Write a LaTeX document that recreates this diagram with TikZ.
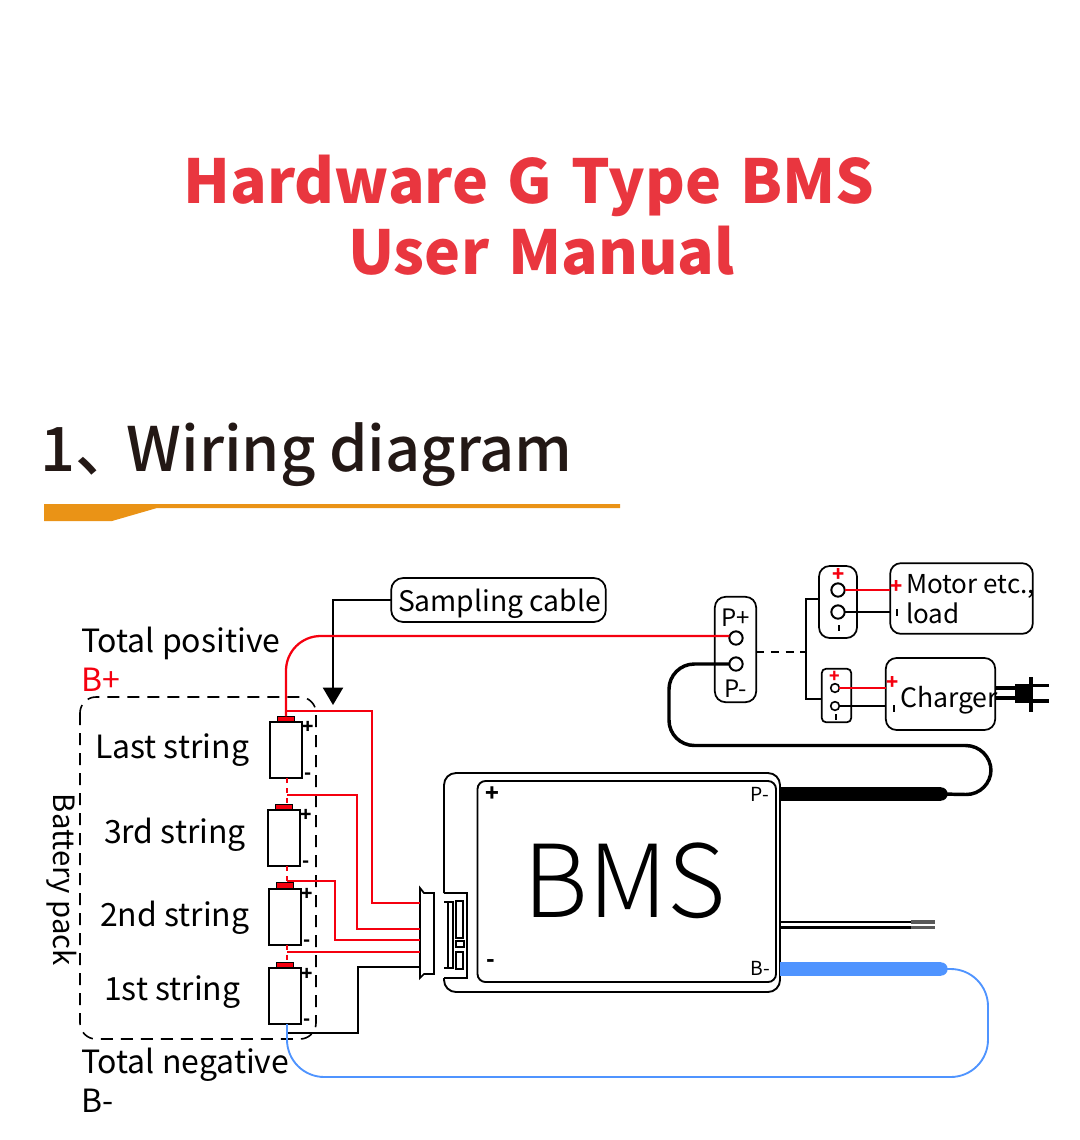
\documentclass[tikz,border=0pt]{standalone}
\usepackage{fontspec}
\usepackage{xcolor}
\setmainfont{Noto Sans CJK SC}
\newfontfamily\headfont{Noto Sans CJK SC Medium}
\newfontfamily\lightfont{Noto Sans CJK SC Light}
\usetikzlibrary{arrows.meta}
\definecolor{TitleRed}{HTML}{E9363F}
\definecolor{HeadInk}{HTML}{231815}
\definecolor{RuleOrange}{HTML}{EA9316}
\definecolor{WireBlue}{HTML}{4F94FF}
\definecolor{WireRed}{HTML}{F5000F}
\tikzset{
  label24/.style={anchor=base west, inner sep=0, outer sep=0, font=\fontsize{24pt}{28pt}\selectfont},
  title40/.style={anchor=base, inner sep=0, outer sep=0, text=TitleRed, font=\fontsize{45.5pt}{50pt}\bfseries\selectfont},
  cell/.style={draw, line width=1.5pt, minimum width=24pt, minimum height=42pt, inner sep=0, outer sep=0},
  cellcap/.style={draw, line width=0.6pt, fill=WireRed, minimum width=13pt, minimum height=4pt, inner sep=0, outer sep=0},
  pm/.style={inner sep=0, outer sep=0, font=\fontsize{14pt}{14pt}\bfseries\selectfont},
  port/.style={circle, draw, line width=1.5pt, minimum size=10pt, inner sep=0, outer sep=0},
  smallport/.style={circle, draw, line width=1.2pt, minimum size=6.5pt, inner sep=0, outer sep=0},
  termbox/.style={draw, line width=1.3pt, rounded corners=8pt, inner sep=0, outer sep=0},
  redwire/.style={WireRed, line width=1.7pt},
  blackwire/.style={black, line width=1.5pt},
}
\begin{document}
\begin{tikzpicture}[x=0.75pt,y=-0.75pt]
\useasboundingbox (0,0) rectangle (1080,1140);
% heading
\node[title40] (titleone) at (529,203) {Hardware\hspace{4pt} G\hspace{4pt} Type\hspace{4pt} BMS};
\node[title40] (titletwo) at (541.5,274) {User\hspace{4pt} Manual};
\node[anchor=base west, inner sep=0, text=HeadInk, font=\fontsize{46pt}{50pt}\headfont] (wiringhead) at (40,471) {1、\hspace{-7.5pt}Wiring diagram};
\fill[RuleOrange] (44,504)--(620,504)--(620,508)--(157,508)--(112,521)--(44,521)--cycle;
% labels
\node[label24] (totalpos) at (81,652) {Total positive};
\node[label24, text=WireRed] (bplus) at (81,691) {B+};
\node[label24] (laststr) at (95,758) {Last string};
\node[label24] (thirdstr) at (104,843) {3rd string};
\node[label24] (secondstr) at (100,926) {2nd string};
\node[label24] (firststr) at (104,1000) {1st string};
\node[label24] (totalneg) at (81,1073) {Total negative};
\node[label24] (bminus) at (81,1112) {B-};
\node[label24, anchor=center, rotate=-90, font=\fontsize{22pt}{26pt}\selectfont] (packlabel) at (62,880) {Battery pack};
\draw[dashed, line width=1.2pt, dash pattern=on 9pt off 6pt, rounded corners=12pt] (80,697) rectangle (316,1039);
% cells
\node[cellcap] (lastcap) at (286,719) {};
\node[cell] (lastcell) at (286,750) {};
\node[cellcap] (thirdcap) at (284,807.5) {};
\node[cell] (thirdcell) at (284,838) {};
\node[cellcap] (secondcap) at (285,885.5) {};
\node[cell] (secondcell) at (285,916.5) {};
\node[cellcap] (firstcap) at (285,965.5) {};
\node[cell] (firstcell) at (285,996) {};
\node[pm] (lastplus) at (308,727) {+};
\node[pm] (lastminus) at (308,776) {-};
\node[pm] (thirdplus) at (306,815) {+};
\node[pm] (thirdminus) at (306,864) {-};
\node[pm] (secondplus) at (307,894) {+};
\node[pm] (secondminus) at (307,943) {-};
\node[pm] (firstplus) at (307,974) {+};
\node[pm] (firstminus) at (307,1022) {-};
% plug on the board
\node[inner sep=0, outer sep=0] (plug) at (427,933) {};
\draw[line width=1.3pt] (420,888)--(424,893)--(434,893)--(434,974)--(424,974)--(420,978)--cycle;
\coordinate (pina) at (420,903);
\coordinate (pinb) at (420,929);
\coordinate (pinc) at (420,940);
\coordinate (pind) at (420,952);
\coordinate (pine) at (420,967);
\coordinate (lasttap) at (286,711);
\coordinate (thirdtap) at (287,795);
\coordinate (secondtap) at (287,881);
\coordinate (firsttap) at (287,952);
\coordinate (grndtap) at (287,1033);
%
\draw[redwire, dash pattern=on 4pt off 3.5pt] (lastcell.south -| thirdtap)--(thirdcap.north -| thirdtap);
\draw[redwire, dash pattern=on 4pt off 3.5pt] (thirdcell.south -| thirdtap)--(secondcap.north -| thirdtap);
\draw[redwire, dash pattern=on 4pt off 3.5pt] (secondcell.south -| thirdtap)--(firstcap.north -| thirdtap);
%
\draw[redwire] (lasttap)--(372,711)--(372,903)--(pina);
\draw[redwire] (thirdtap)--(357,795)--(357,929)--(pinb);
\draw[redwire] (secondtap)--(335,881)--(335,940)--(pinc);
\draw[redwire] (firsttap)--(pind);
\draw[blackwire] (grndtap)--(358,1033)--(358,967)--(pine);
% sampling cable
\node[draw, line width=1.3pt, rounded corners=9pt, minimum width=161pt, minimum height=33pt, inner sep=0, outer sep=0] (sampling) at (498.5,600) {};
\node[anchor=base, inner sep=0, outer sep=0, font=\fontsize{21.2pt}{24pt}\selectfont] (samplingtext) at (499.5,611) {Sampling cable};
\coordinate (sampletip) at (333,705);
\draw[blackwire, -{Triangle[length=13pt,width=15pt]}] (sampling.west)--(333,600)--(sampletip);
% board
\node[anchor=base, inner sep=0, outer sep=0, font=\fontsize{75.5pt}{80pt}\lightfont] (bmstext) at (625,917) {BMS};
\draw[line width=1.4pt, rounded corners=9pt] (444,893)--(444,773)--(780,773)--(780,992)--(444,992)--(444,978);
\draw[line width=1.4pt] (444,893)--(467,893)--(467,978)--(444,978);
\draw[line width=1.4pt] (444,902)--(453,902)--(453,968)--(444,968);
\draw[line width=1.2pt] (448,902)--(448,968);
\draw[line width=1.2pt] (456,901) rectangle (463,938);
\draw[line width=1.2pt] (456,941) rectangle (464,947);
\draw[line width=1.2pt] (456,952) rectangle (463,969);
\draw[line width=1.4pt, rounded corners=6pt] (477.5,781) rectangle (776,982);
\node[inner sep=0, outer sep=0, font=\fontsize{17pt}{17pt}\bfseries\selectfont] (boardplus) at (492,794) {+};
\node[inner sep=0, outer sep=0, font=\fontsize{17pt}{17pt}\bfseries\selectfont] (boardminus) at (491,963) {-};
\node[inner sep=0, outer sep=0, font=\fontsize{14.5pt}{15pt}\selectfont] (boardp) at (760,794) {P-};
\node[inner sep=0, outer sep=0, font=\fontsize{14.5pt}{15pt}\selectfont] (boardb) at (760,968) {B-};
% leads off the board
\coordinate (pbarin) at (780,794);
\coordinate (pbarout) at (941,794);
\coordinate (bbarin) at (780,969);
\coordinate (bbarout) at (941,969);
\draw[black, line width=10pt] (pbarin)--(pbarout);
\draw[black, line width=10pt, line cap=round] (pbarout)--(pbarout);
\draw[WireBlue, line width=10pt] (bbarin)--(bbarout);
\draw[WireBlue, line width=10pt, line cap=round] (bbarout)--(bbarout);
\coordinate (ntcain) at (780,922);
\coordinate (ntcaout) at (935,922);
\coordinate (ntcbin) at (780,927.5);
\coordinate (ntcbout) at (935,927.5);
\draw[black, line width=2.2pt] (ntcain)--(ntcaout);
\draw[black, line width=2.2pt] (ntcbin)--(ntcbout);
\draw[black!65, line width=2.4pt] (911,922)--(ntcaout);
\draw[black!65, line width=2.4pt] (911,927.5)--(ntcbout);
% pack terminals
\node[termbox, minimum width=31pt, minimum height=79pt] (pbox) at (735.5,649.5) {};
\node[port] (pplusport) at (736,638) {};
\node[port] (pminusport) at (736,664) {};
\node[anchor=base, inner sep=0, outer sep=0, font=\fontsize{18pt}{18pt}\selectfont] (pplustext) at (736,626) {P+};
\node[anchor=base, inner sep=0, outer sep=0, font=\fontsize{18pt}{18pt}\selectfont] (pminustext) at (736,697) {P-};
\draw[WireRed, line width=1.7pt, rounded corners=26pt] (lastcap.north)--(286,636)--(pplusport.west |- 0,636);
\draw[black, line width=2.6pt, rounded corners=19pt] (pminusport.west)--(669,664)--(669,745.5)--(991,745.5)--(991,795)--(pbarout);
\draw[WireBlue, line width=1.4pt, rounded corners=28pt] (firstcell.south -| thirdtap)--(287,1077)--(988,1077)--(988,969)--(bbarout);
% load side
\node[termbox, minimum width=28.5pt, minimum height=54pt] (loadbox) at (838,602) {};
\node[port] (loadplus) at (838,590) {};
\node[port] (loadminus) at (838,612) {};
\node[inner sep=0, outer sep=0, text=WireRed, font=\fontsize{15pt}{15pt}\bfseries\selectfont] (loadplusmark) at (838.5,575) {+};
\draw[line width=1pt] (839,625)--(839,631);
\node[termbox, minimum width=107pt, minimum height=53pt] (motorbox) at (961.5,598.5) {};
\node[anchor=base west, inner sep=0, outer sep=0, font=\fontsize{19.5pt}{23pt}\selectfont] (motortext) at (906,593) {Motor etc.,};
\node[anchor=base west, inner sep=0, outer sep=0, font=\fontsize{19.5pt}{23pt}\selectfont] (loadtext) at (906,623) {load};
\node[inner sep=0, outer sep=0, text=WireRed, font=\fontsize{15pt}{15pt}\bfseries\selectfont] (motorplus) at (897,587) {+};
\draw[line width=1pt] (897,609)--(897,616);
\draw[redwire] (loadplus.east)--(motorbox.west |- loadplus.east);
\draw[blackwire] (loadminus.east)--(motorbox.west |- loadminus.east);
% charger side
\node[draw, line width=1.3pt, rounded corners=3pt, inner sep=0, outer sep=0, minimum width=22pt, minimum height=40pt] (chgbox) at (836.5,695.5) {};
\node[smallport] (chgplus) at (835,688) {};
\node[smallport] (chgminus) at (835,706) {};
\node[inner sep=0, outer sep=0, text=WireRed, font=\fontsize{13pt}{13pt}\bfseries\selectfont] (chgplusmark) at (835,677) {+};
\draw[line width=1pt] (836,714)--(836,720);
\node[termbox, minimum width=82pt, minimum height=54pt] (chargerbox) at (940.5,694) {};
\node[anchor=base west, inner sep=0, outer sep=0, font=\fontsize{20pt}{23pt}\selectfont] (chargertext) at (900,707) {Charger};
\node[inner sep=0, outer sep=0, text=WireRed, font=\fontsize{15pt}{15pt}\bfseries\selectfont] (chargerplus) at (893,683) {+};
\draw[line width=1pt] (894,705)--(894,712);
\draw[redwire] (chgplus.east)--(chargerbox.west |- chgplus.east);
\draw[line width=1.3pt] (chgminus.east)--(chargerbox.west |- chgminus.east);
% branch to load and charger
\coordinate (branch) at (806,652);
\draw[dashed, line width=1.2pt, dash pattern=on 6pt off 5pt] (pbox.east |- branch)--(branch);
\draw[line width=1.4pt] (loadbox.west |- 0,599)--(806,599)--(806,699)--(chgbox.west |- 0,699);
% mains plug
\node[fill, inner sep=0, outer sep=0, minimum width=10pt, minimum height=14pt] (plugbody) at (1022,693.5) {};
\draw[line width=2.6pt] (chargerbox.east |- 0,688)--(plugbody.west |- 0,688);
\draw[line width=2.6pt] (chargerbox.east |- 0,698)--(plugbody.west |- 0,698);
\draw[line width=3.6pt] (1031,677)--(1031,712);
\draw[line width=2.8pt] (1031,685.5)--(1049,685.5);
\draw[line width=2.8pt] (1031,701)--(1049,701);
\end{tikzpicture}
\end{document}
